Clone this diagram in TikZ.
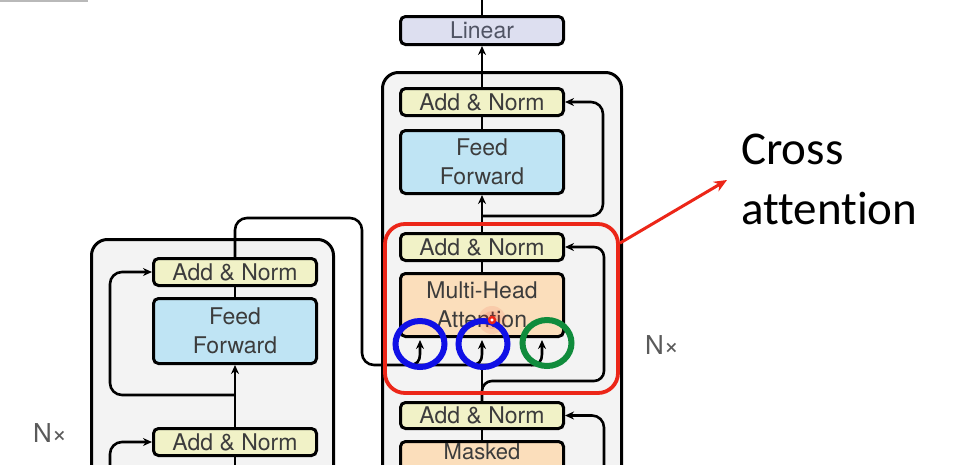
\documentclass[tikz,border=0pt]{standalone}
\usepackage{fontspec}
\setsansfont{TeX Gyre Heros}
\newfontfamily\calib[Ligatures=NoCommon]{Carlito}
\usetikzlibrary{arrows.meta,calc,shapes.geometric}
\definecolor{anfill}{RGB}{241,242,199}
\definecolor{fffill}{RGB}{191,228,244}
\definecolor{mhfill}{RGB}{251,222,187}
\definecolor{linfill}{RGB}{221,223,240}
\definecolor{bgfill}{RGB}{243,243,243}
\definecolor{txt}{RGB}{60,60,60}
\definecolor{lintxt}{RGB}{80,84,100}
\definecolor{xred}{RGB}{236,38,24}
\definecolor{cblue}{RGB}{16,16,230}
\definecolor{cgreen}{RGB}{16,140,60}
\definecolor{nxgray}{RGB}{90,90,90}
\begin{document}
\begin{tikzpicture}[x=1pt,y=-1pt,
  blk/.style={draw=black, line width=3pt, rounded corners=5pt, minimum width=163pt,
    inner sep=0pt, text=txt, align=center, font=\sffamily\fontsize{23}{29}\selectfont},
  an/.style={blk, fill=anfill, minimum height=27pt},
  ffb/.style={blk, fill=fffill},
  mhb/.style={blk, fill=mhfill},
  bgbox/.style={draw=black, line width=3pt, fill=bgfill, rounded corners=16pt, inner sep=0pt},
  wire/.style={line width=2.6pt, draw=black},
  arr/.style={wire, -{Stealth[length=9pt,width=8pt]}},
  ringmark/.style={ellipse, line width=6pt, minimum width=49pt, minimum height=46pt, inner sep=0pt},
  nx/.style={text=nxgray, font=\sffamily\fontsize{26}{26}\selectfont, inner sep=0pt}
]
\clip (0,0) rectangle (967,464);
\fill[white] (0,0) rectangle (967,464);
\draw[gray!55, line width=2pt] (0,1) -- (88,1);

% backgrounds
\node[bgbox, minimum width=239pt, minimum height=466pt] (decbg) at (502,305.5) {};
\node[bgbox, minimum width=242pt, minimum height=299pt] (encbg) at (212.5,389) {};

% decoder blocks
\node[blk, fill=linfill, text=lintxt, minimum height=28pt] (lin) at (482,30.5) {Linear};
\node[an] (dan3) at (482,102) {Add \& Norm};
\node[ffb, minimum height=63pt] (dff) at (482,162) {Feed\\Forward};
\node[an] (dan2) at (482,247) {Add \& Norm};
\node[mhb, minimum height=63pt] (mha) at (482,305) {Multi-Head\\Attention};
\node[an, minimum height=26pt] (dan1) at (482,415.5) {Add \& Norm};
\node[mhb, minimum height=77pt] (masked) at (482,480) {};
\node[text=txt, font=\sffamily\fontsize{22}{28}\selectfont, anchor=base, inner sep=0pt] (mtext) at (482,459) {Masked};

% encoder blocks
\node[an] (ean2) at (235,272) {Add \& Norm};
\node[ffb, minimum height=65pt] (eff) at (235,331) {Feed\\Forward};
\node[an] (ean1) at (235,442) {Add \& Norm};

% coordinates
\coordinate (top) at (482,0);
\coordinate (r3) at (482,216);
\coordinate (kv) at (541,365);
\coordinate (er) at (235,395);
\coordinate (el) at (110,480);
\coordinate (dl) at (604,480);
\coordinate (ebot) at (235,480);

% decoder wiring
\draw[wire] (lin.north) -- (top);
\draw[arr] (dan3.north) -- (lin.south);
\draw[wire] (dff.north) -- (dan3.south);
\draw[arr] (dan2.north) -- (dff.south);
\draw[arr, rounded corners=12pt] (r3) -| ([xshift=38pt]dan3.east) -- (dan3.east);
\draw[wire] (mha.north) -- (dan2.south);
\draw[wire] (masked.north) -- (dan1.south);
\draw[wire] (dan1.north) -- (dan1.north |- kv);
\draw[arr, rounded corners=10pt] (dan1.north) |- (604,381) |- (dan2.east);
\draw[arr, rounded corners=12pt] (dl) |- (dan1.east);

% encoder wiring
\draw[arr] (ean1.north) -- (eff.south);
\draw[wire] (eff.north) -- (ean2.south);
\draw[arr, rounded corners=12pt] (er) -| ([xshift=-42pt]ean2.west) -- (ean2.west);
\draw[arr, rounded corners=12pt] (el) |- (ean1.west);
\draw[wire] (ean1.south) -- (ebot);
\draw[wire, rounded corners=12pt] (ean2.north) |- (362,218) |- (kv);

% attention inputs
\foreach \p in {420,482,542} {
  \draw[arr] (\p-11,365) .. controls (\p-3,365) and (\p,361) .. (\p,354) -- (\p,340);
}

% annotations
\fill[xred, opacity=0.10] (492,320) circle (14pt);
\fill[xred, opacity=0.12] (492,320) circle (9pt);
\node[ringmark, draw=cblue] (c1) at (420,344) {};
\node[ringmark, draw=cblue] (c2) at (483,344) {};
\node[ringmark, draw=cgreen] (c3) at (547,343) {};
\node[circle, draw=xred, fill=white, line width=2.5pt, minimum size=6pt, inner sep=0pt] (dot) at (492,320) {};

\node[draw=xred, line width=3.8pt, rounded corners=20pt, minimum width=233pt, minimum height=169pt, inner sep=0pt] (xbox) at (501.5,308.5) {};
\coordinate (xa) at (727,180);
\draw[xred, line width=3pt, -{Stealth[length=13pt,width=11pt]}] ($(xbox.north east)+(0,21)$) -- (xa);
\node[anchor=north west, align=left, inner sep=0pt, font=\calib\fontsize{47}{60}\selectfont] (xlabel) at (741,134) {Cross\\attention};

\node[nx] (nxr) at (662,345) {N×};
\node[nx] (nxl) at (50,433) {N×};
\end{tikzpicture}
\end{document}
